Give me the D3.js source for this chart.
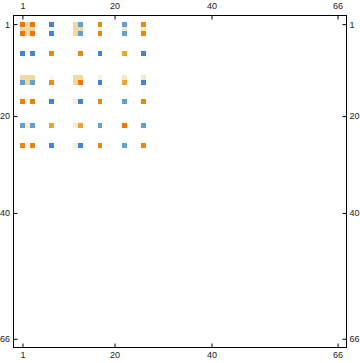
<!DOCTYPE html>
<html><head><meta charset="utf-8">
<script src="https://cdn.jsdelivr.net/npm/d3@7"></script>
<style>html,body{margin:0;padding:0;background:#fff;}svg{display:block;}</style>
</head><body>
<script>
const N = 66;
const tickValues = [1, 20, 40, 66];
const activeIndex = [1, 2, 3, 7, 12, 13, 17, 22, 26];
// matrix values at (activeIndex[row], activeIndex[col])
const row1  = [1.0, 0.25, 1.0, -0.85, 0.25, -0.6, 0.75, -0.6, 0.75];
const row2  = [0.25, 0.25, 0.25, -0.04, 0.25, 0.25, 0.07, 0.12, 0.11];
const row3  = [1.0, 0.25, 1.0, -0.85, 0.25, -0.6, 0.75, -0.6, 0.75];
const row7  = [-0.85, 0, -0.85, 0.75, -0.04, 0.75, -0.85, 0.55, -0.85];
const row12 = [0.25, 0.25, 0.25, -0.04, 0.25, 0.25, 0.07, 0.12, 0.11];
const row13 = [-0.6, 0.25, -0.6, 0.72, 0.25, 1.0, -0.85, 0.55, -0.85];
const row17 = [0.85, 0.04, 0.85, -0.85, 0.08, -0.85, 0.75, -0.6, 0.75];
const row22 = [-0.6, 0.09, -0.6, 0.55, 0.09, 0.55, -0.6, 1.0, -0.6];
const row26 = [0.8, 0.05, 0.8, -0.85, 0.08, -0.85, 0.75, -0.6, 0.75];
const rows = [row1, row2, row3, row7, row12, row13, row17, row22, row26];

const cells = [];
rows.forEach((r, i) => r.forEach((v, j) => {
  if (v !== 0) cells.push({row: activeIndex[i], col: activeIndex[j], v});
}));

const W = 360, H = 363;
const frame = {x0: 13.5, x1: 346.5, y0: 15.5, y1: 347.5};
const gx0 = 20, gx1 = 340, gy0 = 21.7, gy1 = 341.2;

const idxs = d3.range(1, N + 1);
const x = d3.scaleBand().domain(idxs).range([gx0, gx1]);
const y = d3.scaleBand().domain(idxs).range([gy0, gy1]);
const xc = d => x(d) + x.bandwidth() / 2;
const yc = d => y(d) + y.bandwidth() / 2;

const color = d3.scaleLinear()
  .domain([-0.85, -0.6, 0, 0.12, 0.25, 0.55, 0.75, 1])
  .range(["#4382D6", "#62A0CE", "#ffffff", "#F2E8C4", "#EFD9A0", "#E6A535", "#E38B10", "#F27405"])
  .clamp(true);

const svg = d3.select("body").append("svg").attr("width", W).attr("height", H);

svg.append("g").selectAll("rect").data(cells).join("rect")
  .attr("x", d => x(d.col)).attr("y", d => y(d.row))
  .attr("width", x.bandwidth()).attr("height", y.bandwidth())
  .attr("fill", d => color(d.v))
  .attr("shape-rendering", "crispEdges");

svg.append("rect")
  .attr("x", frame.x0).attr("y", frame.y0)
  .attr("width", frame.x1 - frame.x0).attr("height", frame.y1 - frame.y0)
  .attr("fill", "none").attr("stroke", "#000").attr("stroke-width", 1);

const fakeX = d3.scaleLinear().domain([0, 1]).range([0, 1]);
function axis(gen, tr, pos) {
  const g = svg.append("g").attr("transform", tr).call(gen);
  g.select(".domain").remove();
  g.selectAll("line").attr("stroke", "#000");
  g.selectAll("text").attr("font-family", "Liberation Sans, Arial, sans-serif")
    .attr("font-size", 9).attr("fill", "#222");
  return g;
}
const xPos = d => xc(d);
const yPos = d => yc(d);
const sx = d3.scaleOrdinal().domain(tickValues).range(tickValues.map(xPos));
const sy = d3.scaleOrdinal().domain(tickValues).range(tickValues.map(yPos));

axis(d3.axisTop(sx).tickValues(tickValues).tickSizeInner(-4).tickSizeOuter(0).tickPadding(7),
  `translate(0,${frame.y0})`);
axis(d3.axisBottom(sx).tickValues(tickValues).tickSizeInner(-4).tickSizeOuter(0).tickPadding(4.5),
  `translate(0,${frame.y1})`);
axis(d3.axisLeft(sy).tickValues(tickValues).tickSizeInner(-4).tickSizeOuter(0).tickPadding(3.5),
  `translate(${frame.x0},0)`);
axis(d3.axisRight(sy).tickValues(tickValues).tickSizeInner(-4).tickSizeOuter(0).tickPadding(3),
  `translate(${frame.x1},0)`);
</script>
</body></html>
